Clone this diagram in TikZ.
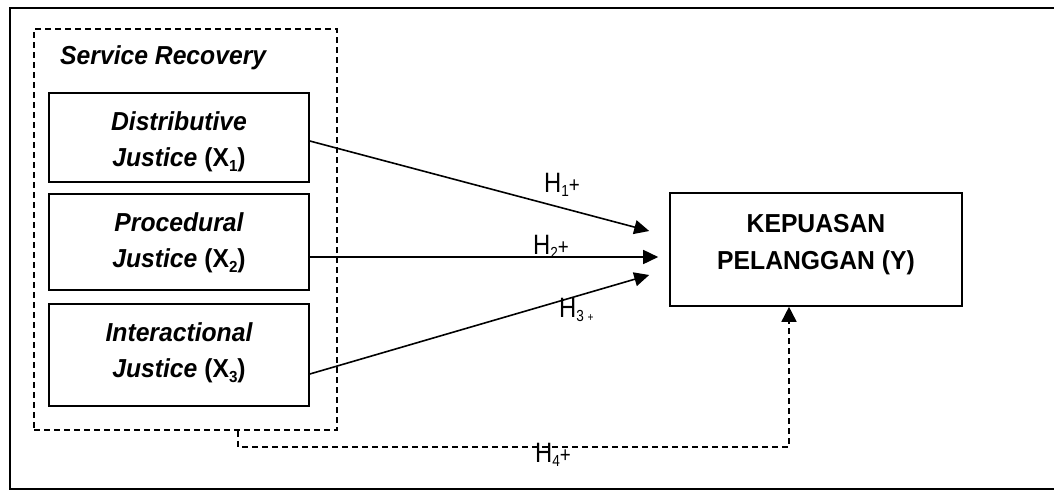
\documentclass[tikz,border=0pt]{standalone}
\usepackage{fontspec}
\setmainfont{Liberation Sans}
\newfontfamily\bfam{Liberation Sans}[FakeStretch=0.95]
\newfontfamily\hfam{Liberation Sans}[FakeStretch=0.85]
\usetikzlibrary{arrows.meta,calc}
\newcommand{\sbx}[1]{\raisebox{-0.2em}{\fontsize{16}{16}\selectfont #1}}
\newcommand{\sbh}[1]{\raisebox{-0.15em}{\fontsize{16}{16}\selectfont #1}}
\begin{document}
\begin{tikzpicture}[x=1pt,y=-1pt,
  box/.style={draw, line width=1.6pt, minimum width=260pt, inner sep=0pt},
  txt/.style={font=\bfam\bfseries\itshape\fontsize{26}{36}\selectfont, align=center, inner sep=0pt},
  ytxt/.style={font=\bfam\bfseries\fontsize{26}{37}\selectfont, align=center, inner sep=0pt},
  hlab/.style={font=\hfam\fontsize{28}{28}\selectfont, anchor=base west, inner sep=0pt},
  arr/.style={line width=1.6pt, -{Triangle[length=15pt,width=14pt]}},
  dsh/.style={line width=1.6pt, dash pattern=on 6pt off 4pt}]
\useasboundingbox (0,0) rectangle (1054,493);
% outer frame
\draw[line width=1.8pt] (1060,8) -- (10,8) -- (10,489) -- (1060,489);
% service recovery group
\node[draw, dsh, minimum width=303pt, minimum height=401pt, inner sep=0pt] (sr) at (185.5,229.5) {};
\node[font=\bfam\bfseries\itshape\fontsize{26}{30}\selectfont, anchor=base west, inner sep=0pt] (srl) at (60,64) {Service Recovery};
% boxes
\node[box, minimum height=89pt] (x1) at (179,137.5) {};
\node[txt] (t1) at (179,142) {Distributive\\Justice {\upshape(X\sbx{1})}};
\node[box, minimum height=96pt] (x2) at (179,242) {};
\node[txt] (t2) at (179,243) {Procedural\\Justice {\upshape(X\sbx{2})}};
\node[box, minimum height=102pt] (x3) at (179,355) {};
\node[txt] (t3) at (179,353) {Interactional\\Justice {\upshape(X\sbx{3})}};
\node[box, minimum width=292pt, minimum height=113pt] (Y) at (816,249.5) {};
\node[ytxt] (ty) at (816,244.5) {KEPUASAN\\PELANGGAN (Y)};
% arrow ends
\coordinate (e1) at ([xshift=-20pt,yshift=18.5pt]Y.west);
\coordinate (e2) at ([xshift=-11pt,yshift=-7.5pt]Y.west);
\coordinate (e3) at ([xshift=-20pt,yshift=-25.5pt]Y.west);
\draw[arr] ([yshift=-3.5pt]x1.east) -- (e1);
\draw[arr] ([yshift=-15pt]x2.east) -- (e2);
\draw[arr] ([yshift=-19pt]x3.east) -- (e3);
\draw[dsh, -{Triangle[length=15pt,width=15pt]}] ([xshift=52.5pt]sr.south) -- ++(0,16) -| ([xshift=-27pt]Y.south);
% labels
\node[hlab] (h1) at (544,192) {H\sbh{1}{\fontsize{22}{22}\selectfont+}};
\node[hlab] (h2) at (533,254) {H\sbh{2}{\fontsize{22}{22}\selectfont+}};
\node[hlab] (h3) at (559,317) {H\sbh{3 {\fontsize{12}{12}\selectfont+}}};
\node[hlab] (h4) at (535,462) {H\sbh{4}{\fontsize{22}{22}\selectfont+}};
\end{tikzpicture}
\end{document}
